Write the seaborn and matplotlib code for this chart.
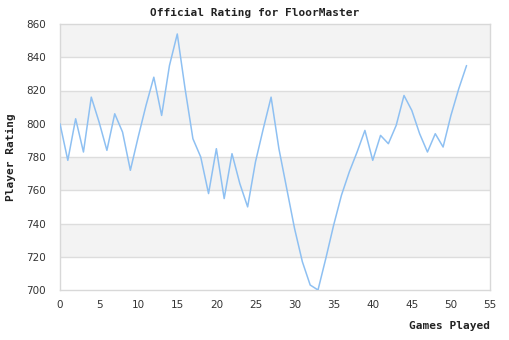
import matplotlib
matplotlib.use("Agg")
import matplotlib.pyplot as plt
import seaborn as sns
import pandas as pd

games = list(range(53))
rating = [800, 778, 803, 783, 816, 801, 784, 806, 795, 772,
          792, 811, 828, 805, 835, 854, 821, 791, 780, 758,
          785, 755, 782, 764, 750, 777, 797, 816, 785, 761,
          737, 717, 703, 700, 719, 739, 757, 771, 783, 796,
          778, 793, 788, 799, 817, 808, 794, 783, 794, 786,
          805, 821, 835]
x_ticks = list(range(0, 56, 5))
y_ticks = list(range(700, 861, 20))

df = pd.DataFrame({"Games Played": games, "Player Rating": rating})

sns.set_style("white")
plt.rcParams["font.family"] = ["DejaVu Sans"]

fig = plt.figure(figsize=(5.1, 3.4), dpi=100)
ax = fig.add_axes([60 / 510, 1 - 290 / 340, 430 / 510, 266 / 340])

# alternating horizontal bands
for i, lo in enumerate(y_ticks[:-1]):
    if i % 2 == 1:
        ax.axhspan(lo, lo + 20, color="#f3f3f3", zorder=0, lw=0)
for y in y_ticks[1:-1]:
    ax.axhline(y, color="#dddddd", lw=1, zorder=1)

sns.lineplot(data=df, x="Games Played", y="Player Rating", ax=ax,
             color="#8ec0f2", lw=1.1, zorder=3)

ax.set_xlim(0, 55)
ax.set_ylim(700, 860)
ax.set_xticks(x_ticks)
ax.set_yticks(y_ticks)
ax.tick_params(length=0, labelsize=7.5, labelcolor="#333333")
ax.tick_params(axis="y", pad=10)
ax.tick_params(axis="x", pad=7)
for s in ax.spines.values():
    s.set_color("#d8d8d8")
    s.set_linewidth(1)

mono = dict(family="DejaVu Sans Mono", weight="bold", size=8, color="#222222")
ax.set_xlabel("")
ax.set_ylabel("")
fig.text(0.5, 1 - 13 / 340, "Official Rating for FloorMaster",
         ha="center", va="center", **mono)
fig.text(490 / 510, 1 - 326 / 340, "Games Played", ha="right", va="center", **mono)
fig.text(11 / 510, 1 - 157 / 340, "Player Rating", ha="center", va="center",
         rotation=90, **mono)

fig.savefig("out.png", dpi=100)
